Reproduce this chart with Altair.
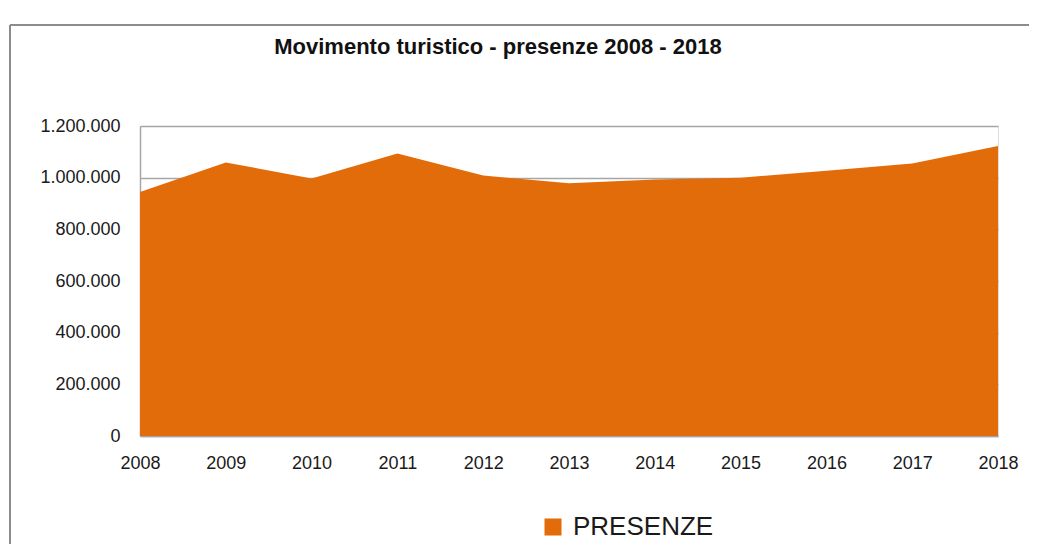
import altair as alt
import pandas as pd

years = [2008, 2009, 2010, 2011, 2012, 2013, 2014, 2015, 2016, 2017, 2018]
presenze = [945000, 1059000, 997000, 1094000, 1008000, 978000, 993000, 1000000, 1027000, 1055000, 1123000]
series = "PRESENZE"
title_text = "Movimento turistico - presenze 2008 - 2018"
y_ticks = [0, 200000, 400000, 600000, 800000, 1000000, 1200000]

df = pd.DataFrame({"anno": years, "presenze": presenze, "serie": [series] * len(years)})

ORANGE = "#E36C0A"
GRID = "#A6A6A6"
FONT = "Liberation Sans"

area = alt.Chart(df).mark_area(color=ORANGE, opacity=1).encode(
    x=alt.X("anno:Q",
            scale=alt.Scale(domain=[2008, 2018], nice=False, zero=False),
            axis=alt.Axis(values=years, format="d", title=None, grid=False,
                          ticks=False, domainColor=GRID, domainWidth=1.5,
                          labelFont=FONT, labelFontSize=18, labelColor="#1a1a1a",
                          labelPadding=18, labelFlush=False)),
    y=alt.Y("presenze:Q",
            scale=alt.Scale(domain=[0, 1200000], nice=False),
            axis=alt.Axis(values=y_ticks, title=None, grid=True, gridColor=GRID,
                          gridWidth=1.5, ticks=False, domainColor=GRID, domainWidth=1.5,
                          labelFont=FONT, labelFontSize=18, labelColor="#1a1a1a",
                          labelPadding=20,
                          labelExpr="replace(replace(format(datum.value, ','), ',', '.'), ',', '.')")),
    color=alt.Color("serie:N",
                    scale=alt.Scale(domain=[series], range=[ORANGE]),
                    legend=alt.Legend(title=None, orient="none", legendX=400, legendY=388,
                                      symbolType="square", symbolSize=290,
                                      symbolStrokeWidth=0, symbolOpacity=1,
                                      labelFont=FONT, labelFontSize=26,
                                      labelColor="#1a1a1a", labelOffset=7)),
)

frame_v = alt.Chart(df).mark_rule(color="#8C8C8C", strokeWidth=2).encode(
    x=alt.value(-130), y=alt.value(-101), y2=alt.value(600))
frame_h = alt.Chart(df).mark_rule(color="#8C8C8C", strokeWidth=2).encode(
    x=alt.value(-130), x2=alt.value(1000), y=alt.value(-101))

chart = alt.layer(area, frame_v, frame_h).properties(
    width=858, height=310,
    autosize=alt.AutoSizeParams(type="none"),
    padding={"left": 132, "top": 118, "right": 31, "bottom": 108},
    title=alt.TitleParams(title_text, font=FONT, fontSize=22, fontWeight="bold",
                          color="#111111", anchor="middle", dx=-71, offset=-35),
).configure_view(stroke=None).configure(background="white")

chart.save("out.html", embed_options={"renderer": "svg", "actions": False})
